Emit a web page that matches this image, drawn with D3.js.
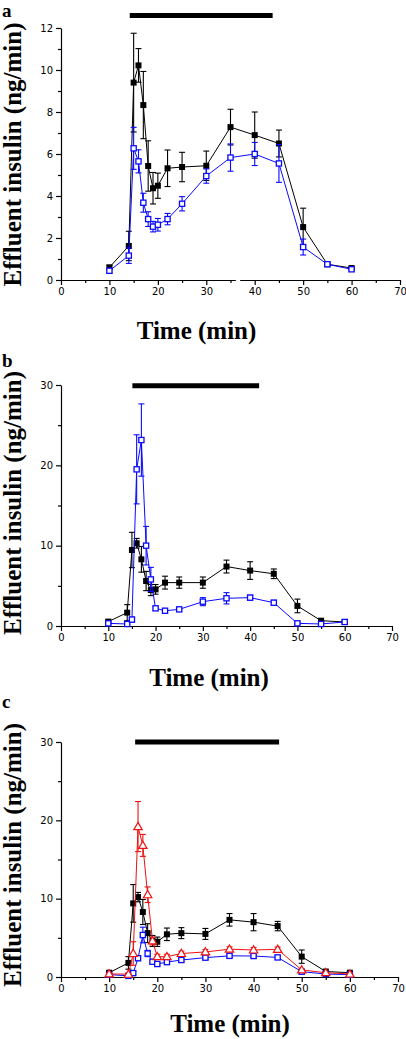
<!DOCTYPE html>
<html><head><meta charset="utf-8">
<script src="https://cdn.jsdelivr.net/npm/d3@7"></script>
<style>body{margin:0;background:#fff}svg{display:block}</style>
</head><body>
<svg id="chart" width="406" height="1039"></svg>
<script>
// ---------- DATA ----------
const time = [10,14,15,16,17,18,19,20,22,25,30,35,40,45,50,55,60];
const xTicks = [0,10,20,30,40,50,60,70];
const xMinor = [5,15,25,35,45,55,65];
const yTicksA = [0,2,4,6,8,10,12];
const yMinorA = [1,3,5,7,9,11];
const yTicksBC = [0,10,20,30];
const yMinorBC = [5,15,25];

// panel a
const aControl    = [0.6,1.62,9.4,10.22,8.33,5.43,4.37,4.49,5.32,5.38,5.44,7.28,6.9,6.5,2.52,0.75,0.57];
const aControlErr = [0.1,0.7,2.35,0.8,1.6,1.2,0.75,0.6,0.87,0.7,0.7,0.85,1.1,0.64,0.9,0.08,0.06];
const aBlue       = [0.44,1.16,6.27,5.65,3.68,2.9,2.54,2.63,2.9,3.63,4.95,5.83,6.0,5.55,1.57,0.75,0.51];
const aBlueErr    = [0.1,0.37,1.0,0.55,0.45,0.35,0.25,0.3,0.27,0.34,0.34,0.65,0.55,0.9,0.38,0.06,0.05];
const aStim = [14.2, 43.7];

// panel b
const bControl    = [0.55,1.66,9.46,10.3,8.3,5.6,4.48,4.56,5.4,5.4,5.4,7.4,6.9,6.5,2.5,0.66,0.5];
const bControlErr = [0.15,1.0,2.2,0.6,1.6,1.2,0.7,0.6,0.8,0.7,0.7,0.8,1.1,0.6,0.85,0.1,0.1];
const bBlue       = [0.33,0.25,0.8,19.5,23.15,10.0,5.8,2.2,1.9,2.07,3.03,3.45,3.53,2.9,0.33,0.25,0.5];
const bBlueErr    = [0.1,0.1,0.3,4.3,4.5,2.4,1.5,0.2,0.15,0.15,0.5,0.7,0.3,0.3,0.1,0.05,0.05];
const bStim = [15.1, 41.9];

// panel c
const cControl    = [0.55,1.8,9.4,10.2,8.3,5.6,4.6,4.5,5.45,5.6,5.5,7.3,7.0,6.5,2.6,0.7,0.55];
const cControlErr = [0.15,0.8,2.4,0.6,1.6,1.2,0.7,0.6,0.8,0.7,0.7,0.8,1.1,0.6,0.85,0.1,0.1];
const cBlue       = [0.3,0.15,0.5,2.4,5.36,3.0,1.95,1.66,1.9,2.17,2.47,2.7,2.68,2.5,0.68,0.38,0.3];
const cBlueErr    = [0.1,0.1,0.2,0.3,1.0,0.4,0.2,0.2,0.2,0.2,0.2,0.2,0.2,0.2,0.1,0.05,0.05];
const cRed        = [0.4,0.35,3.0,19.2,16.8,10.5,4.6,2.6,2.6,3.0,3.2,3.55,3.45,3.53,0.9,0.55,0.38];
const cRedErr     = [0.1,0.1,1.5,3.2,1.4,1.0,0.5,0.3,0.3,0.3,0.3,0.3,0.3,0.3,0.1,0.05,0.05];
const cStim = [15.4, 45.3];

// ---------- LAYOUT ----------
const BLACK = "#000", BLUE = "#0a0aff", RED = "#ee1111";
const panels = [
  {letter:"a", letterY:17, xr:[61,400], yr:[280,28], ymax:12, yT:yTicksA, yM:yMinorA,
   stim:aStim, stimY:12.6, xlabX:196.5, xlabY:339, ylabY:154.5, brk:[36.1,37.0],
   series:[{v:aControl,e:aControlErr,c:BLACK,m:"fsq"},{v:aBlue,e:aBlueErr,c:BLUE,m:"osq"}]},
  {letter:"b", letterY:367, xr:[61,392], yr:[626,385], ymax:30, yT:yTicksBC, yM:yMinorBC,
   stim:bStim, stimY:29.9, xlabX:209, xlabY:686, ylabY:503,
   series:[{v:bControl,e:bControlErr,c:BLACK,m:"fsq"},{v:bBlue,e:bBlueErr,c:BLUE,m:"osq"}]},
  {letter:"c", letterY:708, xr:[61,398], yr:[977,742], ymax:30, yT:yTicksBC, yM:yMinorBC,
   stim:cStim, stimY:30, xlabX:230, xlabY:1032, ylabY:855,
   series:[{v:cControl,e:cControlErr,c:BLACK,m:"fsq"},{v:cBlue,e:cBlueErr,c:BLUE,m:"osq"},{v:cRed,e:cRedErr,c:RED,m:"tri"}]}
];

const svg = d3.select("#chart");
svg.append("rect").attr("width",406).attr("height",1039).attr("fill","#fff");

panels.forEach(p => {
  const x = d3.scaleLinear().domain([0,70]).range(p.xr);
  const y = d3.scaleLinear().domain([0,p.ymax]).range(p.yr);
  const g = svg.append("g");

  // axes
  g.append("g").attr("transform",`translate(0,${p.yr[0]})`)
    .call(d3.axisBottom(x).tickValues(xTicks).tickSize(5).tickSizeOuter(0).tickPadding(3).tickFormat(d3.format("d")));
  g.append("g").attr("transform",`translate(0,${p.yr[0]})`)
    .call(d3.axisBottom(x).tickValues(xMinor).tickSize(3).tickSizeOuter(0).tickFormat(""))
    .select(".domain").remove();
  g.append("g").attr("transform",`translate(${p.xr[0]},0)`)
    .call(d3.axisLeft(y).tickValues(p.yT).tickSize(5).tickSizeOuter(0).tickPadding(3).tickFormat(d3.format("d")));
  g.append("g").attr("transform",`translate(${p.xr[0]},0)`)
    .call(d3.axisLeft(y).tickValues(p.yM).tickSize(3).tickSizeOuter(0).tickFormat(""))
    .select(".domain").remove();
  g.selectAll(".domain, .tick line").attr("stroke","#000").attr("stroke-width",1.2);
  g.selectAll(".tick text").attr("font-family","'DejaVu Sans', sans-serif").attr("font-size",10).attr("fill","#000");

  // stimulation bar
  g.append("line").attr("x1",x(p.stim[0])).attr("x2",x(p.stim[1]))
    .attr("y1",y(p.stimY)).attr("y2",y(p.stimY)).attr("stroke","#000").attr("stroke-width",5);

  // series
  p.series.forEach(s => {
    const pts = time.map((t,i)=>({t, v:s.v[i], e:s.e[i]}));
    const line = d3.line().x(d=>x(d.t)).y(d=>y(d.v));
    g.append("path").datum(pts).attr("d",line).attr("fill","none").attr("stroke",s.c).attr("stroke-width",1);
    const eb = g.append("g").attr("stroke",s.c).attr("stroke-width",1.1);
    pts.forEach(d => {
      const cx = x(d.t), top = y(d.v+d.e), bot = y(Math.max(0,d.v-d.e));
      eb.append("line").attr("x1",cx).attr("x2",cx).attr("y1",top).attr("y2",bot);
      eb.append("line").attr("x1",cx-3).attr("x2",cx+3).attr("y1",top).attr("y2",top);
      eb.append("line").attr("x1",cx-3).attr("x2",cx+3).attr("y1",bot).attr("y2",bot);
    });
    const mk = g.append("g");
    pts.forEach(d => {
      const cx = x(d.t), cy = y(d.v);
      if (s.m === "fsq") {
        mk.append("rect").attr("x",cx-3).attr("y",cy-3).attr("width",6).attr("height",6).attr("fill",s.c);
      } else if (s.m === "osq") {
        mk.append("rect").attr("x",cx-2.6).attr("y",cy-2.6).attr("width",5.2).attr("height",5.2)
          .attr("fill","#fff").attr("stroke",s.c).attr("stroke-width",1.3);
      } else {
        mk.append("path").attr("d",`M${cx},${cy-4.2}L${cx+4.2},${cy+3}L${cx-4.2},${cy+3}Z`)
          .attr("fill","#fff").attr("stroke",s.c).attr("stroke-width",1.2);
      }
    });
  });

  // axis break (panel a)
  if (p.brk) {
    g.append("rect").attr("x",x(p.brk[0])).attr("width",x(p.brk[1])-x(p.brk[0]))
      .attr("y",y(5.2)).attr("height",p.yr[0]-y(5.2)+3).attr("fill","#fff");
  }

  // labels
  svg.append("text").attr("x",2).attr("y",p.letterY).text(p.letter)
    .attr("font-family","'Liberation Serif', serif").attr("font-weight","bold").attr("font-size",19);
  svg.append("text").attr("x",p.xlabX).attr("y",p.xlabY).attr("text-anchor","middle").text("Time (min)")
    .attr("font-family","'Liberation Serif', serif").attr("font-weight","bold").attr("font-size",25);
  svg.append("text").attr("transform",`translate(20.5,${p.ylabY}) rotate(-90)`).attr("text-anchor","middle")
    .text("Effluent insulin (ng/min)")
    .attr("font-family","'Liberation Serif', serif").attr("font-weight","bold").attr("font-size",25);
});
</script>
</body></html>
